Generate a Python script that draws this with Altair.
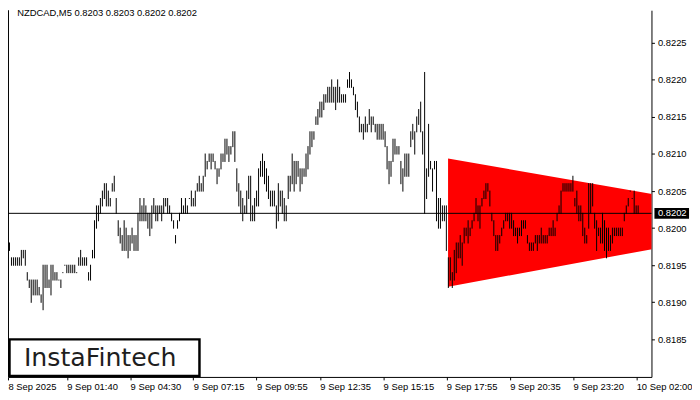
import altair as alt
import pandas as pd

# ---------------- data ----------------
high = [0.8200, 0.8199, 0.8199, 0.8198, 0.8196, 0.8196, 0.8196, 0.8196, 0.8196, 0.8197,
        0.8197, 0.8197, 0.8194, 0.8193, 0.8193, 0.8193, 0.8193, 0.8193, 0.8192, 0.8191,
        0.8195, 0.8195, 0.8195, 0.8193, 0.8195, 0.8195, 0.8194, 0.8194, 0.8193, 0.8193,
        0.8194, 0.8195, 0.8195, 0.8195, 0.8195, 0.8195, 0.8195, 0.8194, 0.8196, 0.8197,
        0.8196, 0.8196, 0.8196, 0.8194, 0.8195, 0.8197, 0.8201, 0.8203, 0.8203, 0.8204,
        0.8205, 0.8206, 0.8206, 0.8205, 0.8204, 0.8206, 0.8207, 0.8204, 0.8201, 0.8200,
        0.8199, 0.8201, 0.8200, 0.8199, 0.8199, 0.8200, 0.8199, 0.8199, 0.8202, 0.8204,
        0.8203, 0.8204, 0.8203, 0.8202, 0.8202, 0.8203, 0.8204, 0.8203, 0.8203, 0.8203,
        0.8203, 0.8204, 0.8204, 0.8204, 0.8203, 0.8202, 0.8201, 0.8199, 0.8201, 0.8202,
        0.8204, 0.8203, 0.8204, 0.8203, 0.8204, 0.8205, 0.8204, 0.8205, 0.8206, 0.8207,
        0.8206, 0.8207, 0.8210, 0.8209, 0.8210, 0.8210, 0.8210, 0.8209, 0.8208, 0.8208,
        0.8210, 0.8210, 0.8212, 0.8212, 0.8211, 0.8211, 0.8213, 0.8213, 0.8208, 0.8206,
        0.8205, 0.8204, 0.8203, 0.8205, 0.8207, 0.8207, 0.8203, 0.8204, 0.8205, 0.8208,
        0.8209, 0.8210, 0.8209, 0.8208, 0.8207, 0.8205, 0.8205, 0.8205, 0.8203, 0.8206,
        0.8205, 0.8205, 0.8204, 0.8203, 0.8207, 0.8207, 0.8210, 0.8209, 0.8209, 0.8209,
        0.8208, 0.8208, 0.8208, 0.8210, 0.8211, 0.8213, 0.8213, 0.8213, 0.8215, 0.8216,
        0.8217, 0.8217, 0.8218, 0.8218, 0.8219, 0.8219, 0.8220, 0.8219, 0.8219, 0.8220,
        0.8219, 0.8218, 0.8218, 0.8218, 0.8220, 0.8221, 0.8220, 0.8219, 0.8218, 0.8217,
        0.8215, 0.8214, 0.8214, 0.8215, 0.8214, 0.8216, 0.8215, 0.8215, 0.8214, 0.8214,
        0.8214, 0.8214, 0.8214, 0.8213, 0.8211, 0.8209, 0.8209, 0.8212, 0.8212, 0.8211,
        0.8211, 0.8209, 0.8208, 0.8210, 0.8210, 0.8210, 0.8213, 0.8214, 0.8213, 0.8215,
        0.8216, 0.8217, 0.8213, 0.8221, 0.8208, 0.8214, 0.8209, 0.8208, 0.8209, 0.8209,
        0.8204, 0.8204, 0.8203, 0.8203, 0.8203, 0.8196, 0.8196, 0.8194, 0.8197, 0.8198,
        0.8198, 0.8199, 0.8198, 0.8200, 0.8200, 0.8201, 0.8200, 0.8201, 0.8202, 0.8204,
        0.8203, 0.8203, 0.8204, 0.8205, 0.8206, 0.8206, 0.8205, 0.8202, 0.8201, 0.8199,
        0.8199, 0.8199, 0.8200, 0.8201, 0.8202, 0.8202, 0.8202, 0.8202, 0.8201, 0.8200,
        0.8200, 0.8200, 0.8201, 0.8201, 0.8201, 0.8199, 0.8198, 0.8198, 0.8198, 0.8199,
        0.8199, 0.8199, 0.8200, 0.8199, 0.8199, 0.8199, 0.8200, 0.8200, 0.8201, 0.8200,
        0.8202, 0.8203, 0.8205, 0.8206, 0.8206, 0.8206, 0.8206, 0.8206, 0.8207, 0.8204,
        0.8205, 0.8203, 0.8203, 0.8202, 0.8200, 0.8199, 0.8206, 0.8206, 0.8206, 0.8202,
        0.8201, 0.8200, 0.8200, 0.8202, 0.8201, 0.8200, 0.8200, 0.8199, 0.8200, 0.8200,
        0.8200, 0.8200, 0.8200, 0.8200, 0.8202, 0.8203, 0.8204, 0.8205, 0.8204, 0.8205,
        0.8203, 0.8203]

low = [0.8198, 0.8197, 0.8197, 0.8197, 0.8195, 0.8195, 0.8195, 0.8195, 0.8195, 0.8195,
       0.8196, 0.8195, 0.8193, 0.8192, 0.8190, 0.8191, 0.8191, 0.8191, 0.8191, 0.8190,
       0.8189, 0.8192, 0.8192, 0.8192, 0.8191, 0.8193, 0.8193, 0.8193, 0.8193, 0.8192,
       0.8194, 0.8195, 0.8194, 0.8194, 0.8194, 0.8194, 0.8194, 0.8194, 0.8195, 0.8195,
       0.8195, 0.8195, 0.8195, 0.8193, 0.8193, 0.8196, 0.8196, 0.8200, 0.8201, 0.8202,
       0.8203, 0.8204, 0.8203, 0.8203, 0.8203, 0.8205, 0.8205, 0.8202, 0.8199, 0.8198,
       0.8197, 0.8197, 0.8197, 0.8196, 0.8197, 0.8198, 0.8197, 0.8197, 0.8197, 0.8201,
       0.8201, 0.8201, 0.8201, 0.8200, 0.8199, 0.8200, 0.8202, 0.8201, 0.8201, 0.8202,
       0.8201, 0.8202, 0.8203, 0.8202, 0.8202, 0.8201, 0.8200, 0.8198, 0.8200, 0.8201,
       0.8202, 0.8202, 0.8202, 0.8202, 0.8204, 0.8203, 0.8203, 0.8203, 0.8205, 0.8205,
       0.8205, 0.8205, 0.8207, 0.8208, 0.8209, 0.8208, 0.8209, 0.8208, 0.8206, 0.8207,
       0.8208, 0.8209, 0.8209, 0.8210, 0.8209, 0.8210, 0.8211, 0.8209, 0.8205, 0.8203,
       0.8202, 0.8201, 0.8202, 0.8202, 0.8204, 0.8201, 0.8201, 0.8201, 0.8203, 0.8203,
       0.8207, 0.8207, 0.8206, 0.8205, 0.8204, 0.8203, 0.8203, 0.8203, 0.8200, 0.8201,
       0.8203, 0.8202, 0.8201, 0.8201, 0.8204, 0.8205, 0.8206, 0.8205, 0.8206, 0.8207,
       0.8205, 0.8206, 0.8207, 0.8207, 0.8208, 0.8210, 0.8211, 0.8212, 0.8214, 0.8214,
       0.8215, 0.8215, 0.8216, 0.8217, 0.8217, 0.8217, 0.8217, 0.8217, 0.8216, 0.8217,
       0.8217, 0.8217, 0.8217, 0.8217, 0.8219, 0.8219, 0.8219, 0.8218, 0.8216, 0.8215,
       0.8213, 0.8213, 0.8212, 0.8213, 0.8213, 0.8214, 0.8213, 0.8214, 0.8213, 0.8212,
       0.8212, 0.8212, 0.8212, 0.8211, 0.8208, 0.8206, 0.8207, 0.8209, 0.8210, 0.8210,
       0.8210, 0.8206, 0.8205, 0.8207, 0.8207, 0.8207, 0.8211, 0.8212, 0.8210, 0.8213,
       0.8214, 0.8213, 0.8210, 0.8202, 0.8204, 0.8207, 0.8208, 0.8205, 0.8208, 0.8201,
       0.8200, 0.8200, 0.8201, 0.8201, 0.8197, 0.8192, 0.8193, 0.8192, 0.8193, 0.8194,
       0.8196, 0.8196, 0.8195, 0.8198, 0.8199, 0.8198, 0.8199, 0.8200, 0.8201, 0.8202,
       0.8201, 0.8200, 0.8203, 0.8204, 0.8204, 0.8205, 0.8203, 0.8201, 0.8199, 0.8197,
       0.8197, 0.8198, 0.8199, 0.8200, 0.8201, 0.8201, 0.8200, 0.8200, 0.8199, 0.8199,
       0.8198, 0.8199, 0.8199, 0.8200, 0.8200, 0.8198, 0.8197, 0.8197, 0.8197, 0.8198,
       0.8197, 0.8198, 0.8198, 0.8198, 0.8198, 0.8198, 0.8199, 0.8199, 0.8199, 0.8199,
       0.8201, 0.8202, 0.8202, 0.8205, 0.8205, 0.8205, 0.8205, 0.8205, 0.8205, 0.8203,
       0.8202, 0.8201, 0.8201, 0.8199, 0.8198, 0.8198, 0.8200, 0.8202, 0.8203, 0.8200,
       0.8197, 0.8199, 0.8198, 0.8198, 0.8197, 0.8196, 0.8197, 0.8197, 0.8198, 0.8199,
       0.8199, 0.8199, 0.8199, 0.8199, 0.8201, 0.8202, 0.8203, 0.8205, 0.8204, 0.8202,
       0.8202, 0.8202]

tick_bars = [0, 32, 64, 96, 128, 160, 192, 224, 256, 288, 320]
tick_labels = ["8 Sep 2025", "9 Sep 01:40", "9 Sep 04:30", "9 Sep 07:15", "9 Sep 09:55",
               "9 Sep 12:35", "9 Sep 15:15", "9 Sep 17:55", "9 Sep 20:35", "9 Sep 23:20",
               "10 Sep 02:00"]
price_ticks = [0.8185, 0.8190, 0.8195, 0.8200, 0.8205, 0.8210, 0.8215, 0.8220, 0.8225]
last_close = 0.8202
header_text = "NZDCAD,M5  0.8203 0.8203 0.8202 0.8202"
logo_text = "InstaFintech"

# triangle pattern: left edge (top/bottom) and apex
tri_bar = [224.85, 406.0]
tri_top = [0.82094, 0.82010]
tri_bot = [0.81921, 0.82010]

# ---------------- layout ----------------
W, H = 651, 371
X_MIN, X_MAX = 2.25, 327.75
Y_MIN, Y_MAX = 0.8179933, 0.82294
FONT = "Liberation Sans"
FS = 9.5

bars = pd.DataFrame({"k": list(range(len(high))), "high": high, "low": low})
tri = pd.DataFrame({"k": tri_bar, "top": tri_top, "bot": tri_bot})
close_df = pd.DataFrame({"close": [last_close], "label": [f"{last_close:.4f}"]})
one = pd.DataFrame({"a": [0]})

xvals = [max(float(t), X_MIN) for t in tick_bars]
expr = ""
for v, lab in zip(xvals, tick_labels):
    expr += f"datum.value == {v} ? '{lab}' : "
expr += "''"

xscale = alt.Scale(domain=[X_MIN, X_MAX], nice=False, zero=False)
yscale = alt.Scale(domain=[Y_MIN, Y_MAX], nice=False, zero=False)

xaxis = alt.Axis(values=xvals, labelExpr=expr, orient="bottom", title=None, grid=False,
                 tickSize=3, labelPadding=2, labelAlign="left", labelBaseline="top",
                 labelFlush=False, labelOverlap=False, labelFont=FONT, labelFontSize=FS,
                 labelColor="black", domainColor="black", tickColor="black")
yaxis = alt.Axis(values=price_ticks, format=".4f", orient="right", title=None, grid=False,
                 tickSize=3, labelPadding=3, labelBaseline="middle", labelFlush=False,
                 labelOverlap=False, labelFont=FONT, labelFontSize=FS, labelColor="black",
                 domainColor="black", tickColor="black")

X = lambda f: alt.X(f, scale=xscale, axis=xaxis)
Y = lambda f: alt.Y(f, scale=yscale, axis=yaxis)

triangle = alt.Chart(tri).mark_area(color="#ff0000", opacity=1, clip=True).encode(
    x=X("k:Q"), y=Y("top:Q"), y2="bot:Q")

bar_layer = alt.Chart(bars).mark_rule(color="black", strokeWidth=1, strokeCap="square",
                                      clip=True).encode(
    x=X("k:Q"), y=Y("low:Q"), y2="high:Q")

price_line = alt.Chart(close_df).mark_rule(color="black", strokeWidth=1).encode(
    y=Y("close:Q"))

left_border = alt.Chart(one).mark_rule(color="black", strokeWidth=1).encode(
    x=alt.value(0.5), y=alt.value(0), y2=alt.value(H))

logo_box = alt.Chart(one).mark_rect(fill="white", stroke="black", strokeWidth=2.5).encode(
    x=alt.value(1.5), x2=alt.value(193.7), y=alt.value(333), y2=alt.value(370))

logo = alt.Chart(one).mark_text(text=logo_text, font="DejaVu Sans", fontSize=25.5,
                                fontWeight="normal", color="#1e1e1e", align="center",
                                baseline="middle").encode(
    x=alt.value(93.3), y=alt.value(351.5))

header = alt.Chart(one).mark_text(text=header_text, font=FONT, fontSize=FS, color="black",
                                  align="left", baseline="top").encode(
    x=alt.value(9.3), y=alt.value(-2.5))

price_box = alt.Chart(one).mark_rect(color="black").encode(
    x=alt.value(654), x2=alt.value(689), y=alt.value(200), y2=alt.value(211))

price_text = alt.Chart(close_df).mark_text(font=FONT, fontSize=FS, color="white",
                                           align="left", baseline="middle").encode(
    x=alt.value(657.5), y=Y("close:Q"), text="label:N")

chart = alt.layer(triangle, bar_layer, price_line, left_border, logo_box, logo, header,
                  price_box, price_text).properties(
    width=W, height=H,
    padding={"left": 0, "top": 0, "right": 41, "bottom": 13},
    autosize=alt.AutoSizeParams(type="none"),
    background="white",
).configure_view(stroke=None)

chart.save("out.html", embed_options={"renderer": "svg", "actions": False})
